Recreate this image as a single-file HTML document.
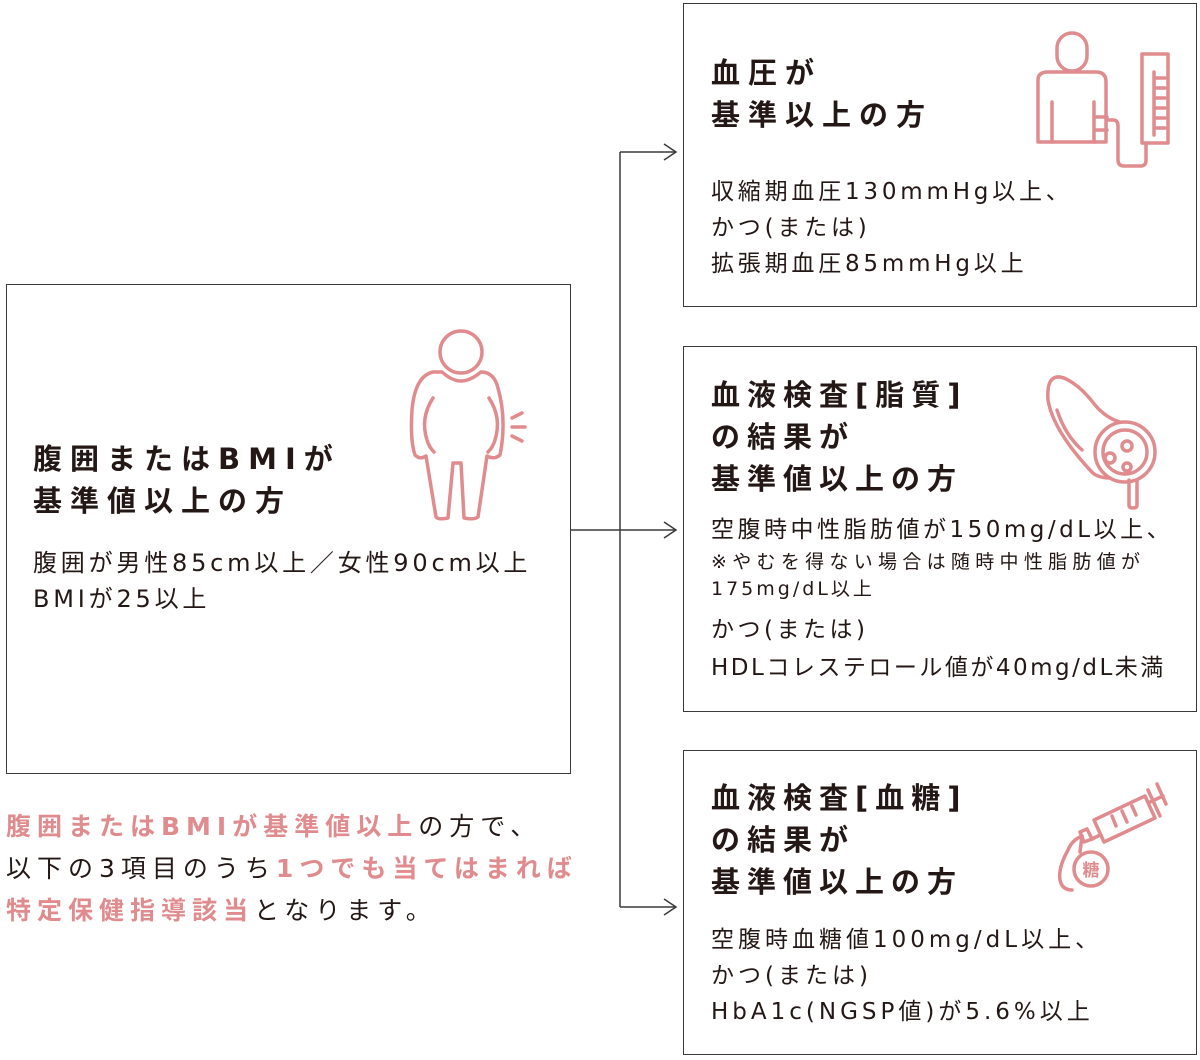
<!DOCTYPE html>
<html><head><meta charset="utf-8"><style>
body{margin:0;background:#fff;width:1200px;height:1060px;position:relative;overflow:hidden;font-family:"DejaVu Sans","Noto Sans CJK JP",sans-serif;color:#231815}
.box{position:absolute;border:1.5px solid #3a3a3a;box-sizing:border-box}
.t{position:absolute;white-space:nowrap}
.h{font-size:29px;font-weight:bold;letter-spacing:8px;line-height:42px}
.b{font-size:23px;line-height:36px;letter-spacing:3.5px}
.s{font-size:19px;line-height:27px;letter-spacing:5.3px}
.p{color:#e08b8d;font-weight:bold}
</style></head><body>
<div class="box" style="left:6px;top:284px;width:565px;height:490px"></div>
<div class="box" style="left:683px;top:3px;width:514px;height:304px"></div>
<div class="box" style="left:683px;top:346px;width:514px;height:366px"></div>
<div class="box" style="left:683px;top:750px;width:514px;height:305px"></div>

<svg width="1200" height="1060" style="position:absolute;left:0;top:0" fill="none">
<g stroke="#3a3a3a" stroke-width="1.5">
<path d="M571 530H676M620 152V907M620 152H676M620 907H676"/>
<path d="M664 144L676 152L664 160M664 522L676 530L664 538M664 899L676 907L664 915"/>
</g>
<g stroke="#e08b8d" stroke-width="3.5" stroke-linecap="round" stroke-linejoin="round">
<circle cx="461" cy="352" r="21"/>
<path d="M433 372Q415 376 412 410Q410 440 415 455Q420 460 426 456L436 517Q438 520 448 518L453 463L461 463L464 518Q474 520 478 517L487 456Q494 460 500 455Q507 420 498 388Q494 372 481 372Q470 381 461 381Q452 381 442 372Z"/>
<path d="M433 398Q420 418 427 440Q429 447 434 452M489 398Q502 418 495 440Q493 447 488 452"/>
<path d="M512 418L522 413M512 427L525 427M512 436L522 441"/>
<rect x="1057" y="33" width="30" height="38" rx="15"/>
<path d="M1038 142V80Q1038 72 1048 72H1096Q1106 72 1106 82V142Z"/>
<path d="M1052 102V142M1094 102V142M1094 117H1107M1094 130H1107"/>
<path d="M1107 120H1113Q1118 120 1118 126V160Q1118 166 1124 166H1141Q1146 166 1146 160V143"/>
<rect x="1142" y="54" width="26" height="89"/>
<path d="M1154 72V135M1154 78H1165M1154 88H1165M1154 98H1165M1154 108H1165M1154 118H1165M1154 128H1165"/>
<path d="M1064 378Q1046 372 1048 400Q1053 430 1090 470Q1096 478 1110 478"/>
<path d="M1064 378Q1080 385 1095 405Q1106 418 1120 422"/>
<path d="M1057 410Q1065 435 1082 450"/>
<circle cx="1125" cy="452" r="30"/>
<circle cx="1125" cy="452" r="22"/>
<circle cx="1110" cy="458" r="5"/><circle cx="1127" cy="446" r="5"/><circle cx="1127" cy="467" r="4"/>
<path d="M1129 480V505Q1129 508 1133 508Q1137 508 1137 505V480"/>
<path d="M1094 820L1145 796L1155 818L1104 842Z"/>
<path d="M1100 835L1092 839L1087 829M1087 829L1080 832L1084 842L1092 839"/>
<path d="M1112 816L1116 826M1122 811L1127 822M1132 806L1136 815"/>
<path d="M1148 790L1160 816M1150 802L1163 796M1157 784L1166 804"/>
<path d="M1082 836Q1072 840 1068 850Q1058 868 1060 880Q1062 890 1072 890"/>
<circle cx="1091" cy="869" r="17"/>
<path d="M1082 836L1080 852"/>
</g>
<text x="1091" y="876" font-size="17" fill="#e08b8d" text-anchor="middle" font-family="Noto Sans CJK JP" font-weight="bold">糖</text>
</svg>

<div class="t h" style="left:33px;top:438px">腹囲またはBMIが<br>基準値以上の方</div>
<div class="t b" style="left:33px;top:545px;font-size:24px;letter-spacing:3.8px">腹囲が男性85cm以上／女性90cm以上<br>BMIが25以上</div>

<div class="t h" style="left:711px;top:52px">血圧が<br>基準以上の方</div>
<div class="t b" style="left:711px;top:174px;letter-spacing:3.8px">収縮期血圧130mmHg以上、<br>かつ(または)<br>拡張期血圧85mmHg以上</div>

<div class="t h" style="left:711px;top:374px;letter-spacing:7px">血液検査[脂質]<br>の結果が<br>基準値以上の方</div>
<div class="t b" style="left:711px;top:512px">空腹時中性脂肪値が150mg/dL以上、</div>
<div class="t s" style="left:711px;top:549px">※やむを得ない場合は随時中性脂肪値が<br><span style="letter-spacing:3px">175mg/dL以上</span></div>
<div class="t b" style="left:711px;top:612px">かつ(または)</div>
<div class="t b" style="left:711px;top:650px;letter-spacing:2.5px">HDLコレステロール値が40mg/dL未満</div>

<div class="t h" style="left:711px;top:777px;letter-spacing:7px">血液検査[血糖]<br>の結果が<br>基準値以上の方</div>
<div class="t b" style="left:711px;top:922px;letter-spacing:4px">空腹時血糖値100mg/dL以上、<br>かつ(または)<br>HbA1c(NGSP値)が5.6%以上</div>

<div class="t" style="left:6px;top:806px;font-size:25px;line-height:42px;letter-spacing:6px"><span class="p">腹囲またはBMIが基準値以上</span>の方で、<br>以下の3項目のうち<span class="p">1つでも当てはまれば</span><br><span class="p">特定保健指導該当</span>となります。</div>
</body></html>
